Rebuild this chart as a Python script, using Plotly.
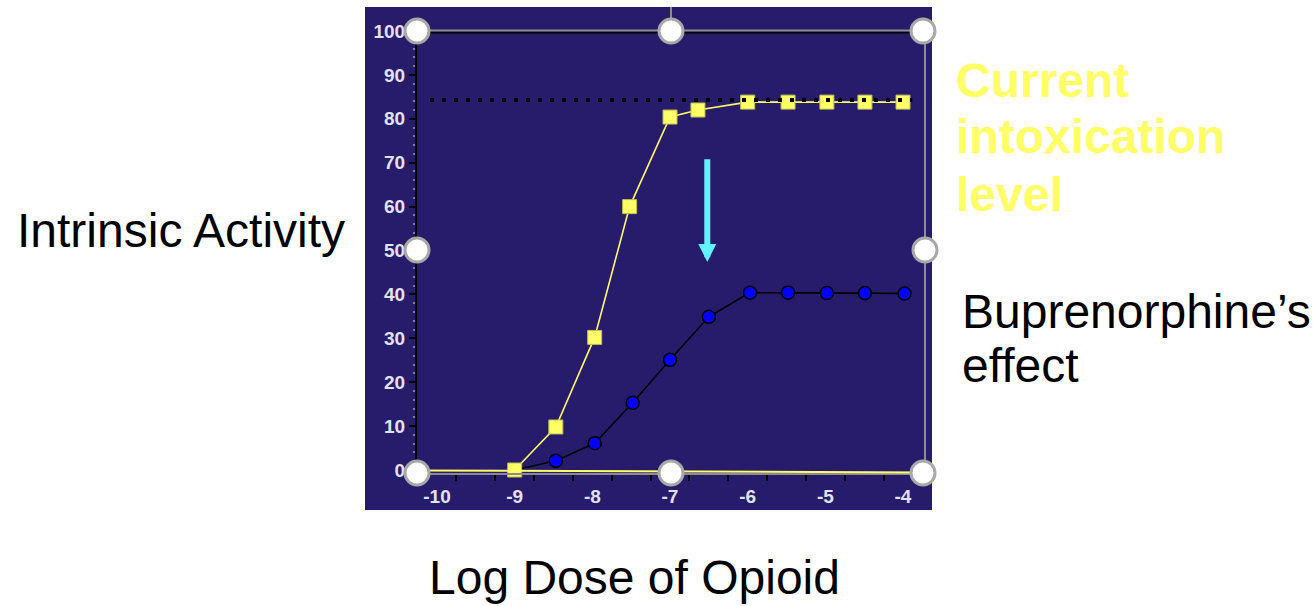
import plotly.graph_objects as go

# ---------------- data ----------------
agonist_x = [-9, -8.47, -7.97, -7.52, -7.0, -6.64, -6.0, -5.48, -4.98, -4.49, -4.0]
agonist_y = [0, 9.8, 30.2, 60.0, 80.4, 82.0, 83.8, 83.8, 83.8, 83.8, 83.8]

bup_x = [-9, -8.47, -7.97, -7.48, -7.0, -6.5, -5.97, -5.48, -4.98, -4.49, -3.98]
bup_y = [0, 2.1, 6.1, 15.3, 25.1, 34.9, 40.4, 40.4, 40.3, 40.3, 40.2]

ref_x = [-10.09, -3.88]
ref_level = 84.3

arrow_x = -6.52
arrow_from = 71.1
arrow_to = 47.4

x_ticks = [-10, -9, -8, -7, -6, -5, -4]
y_ticks = [0, 10, 20, 30, 40, 50, 60, 70, 80, 90, 100]

# ---------------- geometry helpers ----------------
W, H = 1316, 606
def px(x):
    return x / W
def py(y):
    return 1 - y / H

NAVY = "#271C6C"
YELLOW = "#FFFF66"
TICKCOL = "#E2E2EE"
FONT = "Liberation Sans, Arial, sans-serif"

fig = go.Figure()

fig.add_trace(go.Scatter(
    x=bup_x, y=bup_y, mode="lines+markers",
    line=dict(color="black", width=1.6),
    marker=dict(symbol="circle", size=13, color="#0000FF",
                line=dict(color="black", width=1.5)),
    cliponaxis=False, showlegend=False, hoverinfo="skip"))

fig.add_trace(go.Scatter(
    x=agonist_x, y=agonist_y, mode="lines+markers",
    line=dict(color=YELLOW, width=1.6),
    marker=dict(symbol="square", size=14, color=YELLOW,
                line=dict(color="#BDBD55", width=1)),
    cliponaxis=False, showlegend=False, hoverinfo="skip"))

fig.add_trace(go.Scatter(
    x=ref_x, y=[ref_level, ref_level], mode="lines",
    line=dict(color="black", width=4, dash="4px,8px"),
    cliponaxis=False, showlegend=False, hoverinfo="skip"))

shapes = []
# navy panel
shapes.append(dict(type="rect", xref="paper", yref="paper",
                   x0=px(365), x1=px(932), y0=py(510), y1=py(7),
                   fillcolor=NAVY, line=dict(width=0), layer="below"))
# yellow baseline along bottom
shapes.append(dict(type="line", xref="paper", yref="paper",
                   x0=px(417), x1=px(925), y0=py(470.5), y1=py(472.5),
                   line=dict(color=YELLOW, width=2)))
# frame: top (black under gray), right gray, rotation stem
shapes.append(dict(type="line", xref="paper", yref="paper",
                   x0=px(417), x1=px(925), y0=py(32.5), y1=py(32.5),
                   line=dict(color="black", width=2)))
shapes.append(dict(type="line", xref="paper", yref="paper",
                   x0=px(417), x1=px(925), y0=py(30.5), y1=py(30.5),
                   line=dict(color="#8C8C8C", width=2)))
shapes.append(dict(type="line", xref="paper", yref="paper",
                   x0=px(925), x1=px(925), y0=py(31), y1=py(473),
                   line=dict(color="#8C8C8C", width=2)))
shapes.append(dict(type="line", xref="paper", yref="paper",
                   x0=px(671), x1=px(671), y0=py(7), y1=py(31),
                   line=dict(color="#8C8C8C", width=2)))
# selection handles
for hx, hy in [(417, 31), (671, 31), (923, 31), (417, 250), (925, 250),
               (417, 473), (671, 473), (923, 473)]:
    shapes.append(dict(type="circle", xref="paper", yref="paper",
                       xsizemode="pixel", ysizemode="pixel",
                       xanchor=px(hx), yanchor=py(hy),
                       x0=-12, x1=12, y0=-12, y1=12,
                       fillcolor="white", line=dict(color="#A8A8A8", width=3)))

annotations = []
annotations.append(dict(x=arrow_x, y=arrow_to, ax=arrow_x, ay=arrow_from,
                        xref="x", yref="y", axref="x", ayref="y",
                        text="", showarrow=True, arrowhead=2, arrowsize=0.6,
                        arrowwidth=6, arrowcolor="#63F3FF"))

def txt(s, x, y, size=46, color="black", bold=False, xanchor="left"):
    annotations.append(dict(text=s, x=px(x), y=py(y), xref="paper", yref="paper",
                            xanchor=xanchor, yanchor="middle", showarrow=False,
                            font=dict(family=FONT, size=size, color=color,
                                      weight="bold" if bold else "normal")))

txt("Intrinsic Activity", 15, 230, size=48)
txt("Log Dose of Opioid", 634, 577, size=48, xanchor="center")
txt("Buprenorphine’s", 960, 311, size=48)
txt("effect", 960, 365, size=48)
txt("Current", 954, 80, size=48, color=YELLOW, bold=True)
txt("intoxication", 954, 136, size=48, color=YELLOW, bold=True)
txt("level", 954, 194, size=48, color=YELLOW, bold=True)

fig.update_layout(
    width=W, height=H, autosize=False,
    margin=dict(l=0, r=0, t=0, b=0, pad=0, autoexpand=False),
    paper_bgcolor="white",
    plot_bgcolor="rgba(0,0,0,0)",
    shapes=shapes,
    annotations=annotations,
    showlegend=False,
    xaxis=dict(domain=[px(417), px(925)], range=[-10.2575, -3.7167],
               automargin=False,
               tickvals=x_ticks, ticktext=[str(v) for v in x_ticks],
               ticks="", showgrid=False, zeroline=False,
               showline=True, linecolor="#8C8C8C", linewidth=2,
               tickfont=dict(family=FONT, size=19, color=TICKCOL, weight="bold"),
               ticklabelstandoff=5,
               minor=dict(tick0=-9.75, dtick=0.5, ticks="outside", ticklen=6,
                          tickcolor="black", tickwidth=1.5, showgrid=False)),
    yaxis=dict(domain=[py(473), py(31)], range=[-0.683, 100],
               automargin=False,
               tickvals=y_ticks, ticks="outside", ticklen=6, tickcolor="black",
               tickwidth=1.5, showgrid=False, zeroline=False,
               showline=True, linecolor="black", linewidth=2,
               tickfont=dict(family=FONT, size=19, color=TICKCOL, weight="bold"),
               minor=dict(dtick=2, ticks="outside", ticklen=2,
                          tickcolor="#7A7A9A", showgrid=False)),
)

fig.write_html(
    "out.html",
    config={"displayModeBar": False},
    post_script=("document.body.style.margin='0';document.body.style.padding='0';"
                 "var d=document.getElementById('{plot_id}');"
                 "d.style.position='absolute';d.style.top='0px';d.style.left='0px';"),
)
